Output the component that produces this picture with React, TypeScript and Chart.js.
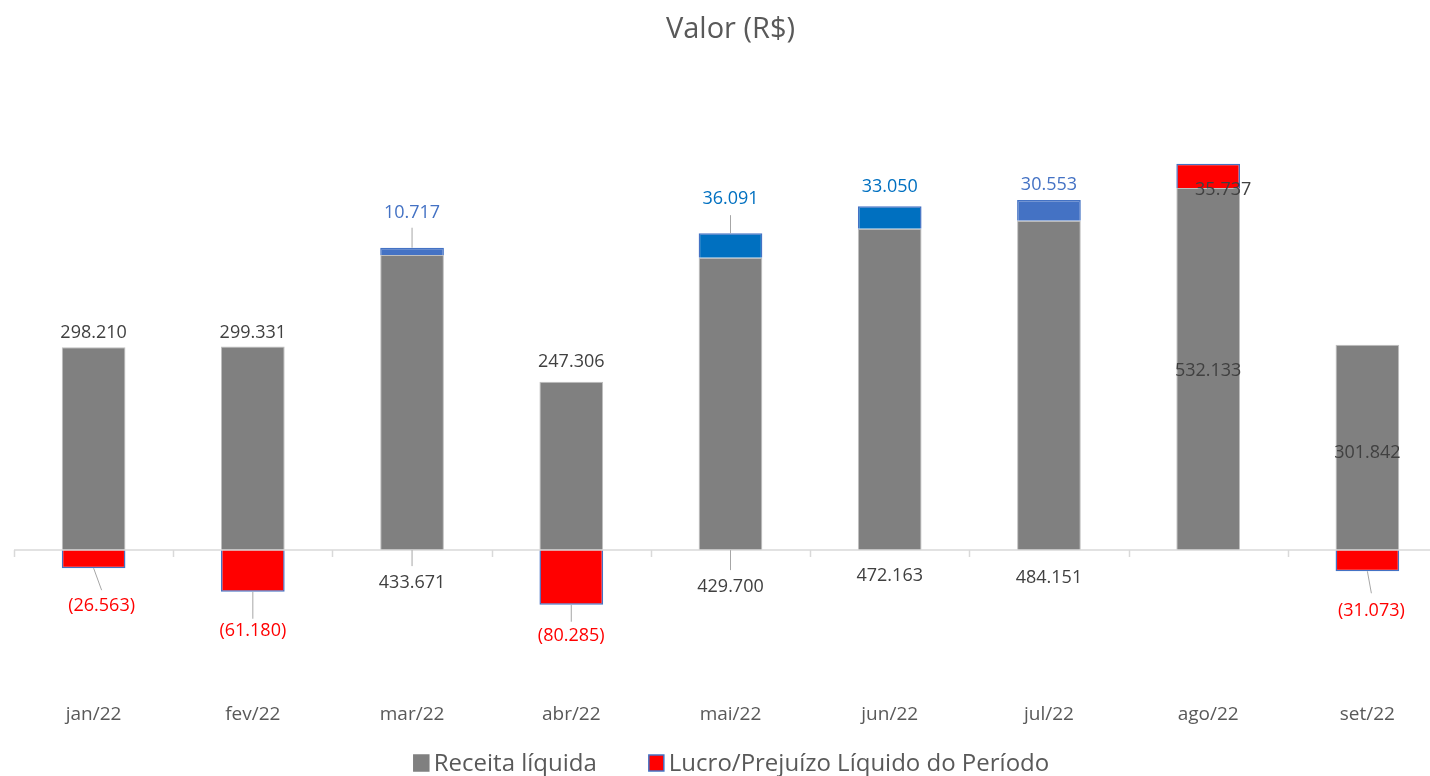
import React, { useEffect, useRef } from 'react';
import { Chart, registerables } from 'chart.js';

Chart.register(...registerables);

// ---------- data ----------
const categories = ['jan/22', 'fev/22', 'mar/22', 'abr/22', 'mai/22', 'jun/22', 'jul/22', 'ago/22', 'set/22'];
const receitaLiquida = [298210, 299331, 433671, 247306, 429700, 472163, 484151, 532133, 301842];
const lucroPrejuizo = [-26563, -61180, 10717, -80285, 36091, 33050, 30553, 35737, -31073];
const seriesNames = ['Receita líquida', 'Lucro/Prejuízo Líquido do Período'];
const chartTitle = 'Valor (R$)';
const yMin = -200000;
const yMax = 700000;

// ---------- styles ----------
const FONT = '"Open Sans", sans-serif';
const GREY = '#808080';
const GREY_BORDER = '#bfbfbf';
const RED = '#FF0000';
const BLUE = '#4472C4';
const BLUE2 = '#0070C0';
const TEXT_DARK = '#404040';
const TEXT = '#595959';
const lucroFill = [RED, RED, BLUE, RED, BLUE2, BLUE2, BLUE, RED, RED];
const lucroLabelColor = [RED, RED, BLUE, RED, BLUE2, BLUE2, BLUE, TEXT_DARK, RED];
const receitaLabelColor = categories.map(() => TEXT_DARK);

type LabelPos = { at: 'end' | 'base' | 'mid'; dx?: number; dy: number; leader?: boolean; gap?: number };
// label placement relative to each bar (Excel-like manual label positions)
const receitaLabelPos: LabelPos[] = [
  { at: 'end', dy: -16 },
  { at: 'end', dy: -16 },
  { at: 'base', dy: 31, leader: true, gap: 17 },
  { at: 'end', dy: -22 },
  { at: 'base', dy: 35, leader: true, gap: 17 },
  { at: 'base', dy: 24 },
  { at: 'base', dy: 26 },
  { at: 'mid', dy: 0 },
  { at: 'mid', dy: 3 },
];
const lucroLabelPos: LabelPos[] = [
  { at: 'end', dx: 8, dy: 36, leader: true, gap: 16 },
  { at: 'end', dy: 37, leader: true, gap: 12 },
  { at: 'end', dy: -37, leader: true, gap: 15 },
  { at: 'end', dy: 29, leader: true, gap: 14 },
  { at: 'end', dy: -36, leader: true, gap: 16 },
  { at: 'end', dy: -21 },
  { at: 'end', dy: -17 },
  { at: 'end', dx: 15, dy: 24 },
  { at: 'end', dx: 4, dy: 38, leader: true, gap: 18 },
];
const TEXT_SHIFT = 2; // baseline correction for the font

const fmt = (v: number) => {
  const s = Math.abs(v).toString().replace(/\B(?=(\d{3})+(?!\d))/g, '.');
  return v < 0 ? `(${s})` : s;
};

const overlayPlugin = {
  id: 'overlay',
  afterDatasetsDraw(chart: any) {
    const ctx = chart.ctx as CanvasRenderingContext2D;
    const { left, right } = chart.chartArea;
    const y0 = chart.scales.y.getPixelForValue(0);
    const n = categories.length;
    const w = (right - left) / n;
    ctx.save();
    // zero axis line + tick marks
    ctx.strokeStyle = '#d9d9d9';
    ctx.lineWidth = 1.5;
    ctx.beginPath();
    ctx.moveTo(left, y0);
    ctx.lineTo(right, y0);
    for (let i = 0; i <= n; i++) {
      const tx = Math.round(left + i * w) + 0.5;
      ctx.moveTo(tx, y0);
      ctx.lineTo(tx, y0 + 7);
    }
    ctx.stroke();

    ctx.font = `18px ${FONT}`;
    ctx.textAlign = 'center';
    ctx.textBaseline = 'middle';
    const drawSet = (dsIndex: number, values: number[], pos: LabelPos[], colors: string[]) => {
      const meta = chart.getDatasetMeta(dsIndex);
      meta.data.forEach((el: any, i: number) => {
        const p = pos[i];
        const pr = el.getProps(['x', 'y', 'base'], true);
        let ay: number;
        if (p.at === 'end') ay = pr.y;
        else if (p.at === 'base') ay = pr.base;
        else ay = (pr.y + pr.base) / 2;
        const lx = pr.x + (p.dx || 0);
        const ly = ay + p.dy + TEXT_SHIFT;
        if (p.leader) {
          const dir = Math.sign(p.dy);
          ctx.strokeStyle = '#a6a6a6';
          ctx.lineWidth = 1;
          ctx.beginPath();
          ctx.moveTo(pr.x, ay);
          ctx.lineTo(lx, ly - dir * (p.gap || 15));
          ctx.stroke();
        }
        ctx.fillStyle = colors[i];
        ctx.fillText(fmt(values[i]), lx, ly);
      });
    };
    drawSet(0, receitaLiquida, receitaLabelPos, receitaLabelColor);
    drawSet(1, lucroPrejuizo, lucroLabelPos, lucroLabelColor);
    ctx.restore();
  },
  afterDraw(chart: any) {
    // legend
    const ctx = chart.ctx as CanvasRenderingContext2D;
    const { left, right } = chart.chartArea;
    ctx.save();
    ctx.font = `24px ${FONT}`;
    ctx.textBaseline = 'middle';
    ctx.textAlign = 'left';
    const box = 15;
    const gapBoxText = 5;
    const gapItems = 52;
    const items = [
      { text: seriesNames[0], fill: GREY, stroke: GREY },
      { text: seriesNames[1], fill: RED, stroke: BLUE },
    ];
    const widths = items.map((it) => box + gapBoxText + ctx.measureText(it.text).width);
    const total = widths.reduce((a, b) => a + b, 0) + gapItems * (items.length - 1);
    let x = (left + right) / 2 - total / 2 + 1;
    const cy = 763;
    items.forEach((it, i) => {
      ctx.fillStyle = it.fill;
      ctx.fillRect(x, cy - 8, box, 16);
      ctx.strokeStyle = it.stroke;
      ctx.lineWidth = 1.5;
      ctx.strokeRect(x, cy - 8, box, 16);
      ctx.fillStyle = TEXT;
      ctx.fillText(it.text, x + box + gapBoxText, cy + 1);
      x += widths[i] + gapItems;
    });
    ctx.restore();
  },
};

export default function App() {
  const ref = useRef<HTMLCanvasElement | null>(null);
  useEffect(() => {
    if (!ref.current) return;
    const chart = new Chart(ref.current, {
      type: 'bar',
      data: {
        labels: categories,
        datasets: [
          {
            label: seriesNames[0],
            data: receitaLiquida,
            backgroundColor: GREY,
            borderColor: GREY_BORDER,
            borderWidth: 1,
            barPercentage: 0.4,
            categoryPercentage: 1,
          },
          {
            label: seriesNames[1],
            data: lucroPrejuizo,
            backgroundColor: lucroFill,
            borderColor: BLUE,
            borderWidth: 1.5,
            barPercentage: 0.4,
            categoryPercentage: 1,
          },
        ],
      },
      options: {
        animation: false,
        responsive: true,
        maintainAspectRatio: false,
        layout: { padding: { left: 14, right: 15, top: 0, bottom: 33 } },
        plugins: {
          legend: { display: false },
          tooltip: { enabled: false },
          title: {
            display: true,
            text: chartTitle,
            color: TEXT,
            font: { family: FONT, size: 29, weight: 'normal' },
            padding: { top: 12, bottom: 27 },
          },
        },
        scales: {
          x: {
            stacked: true,
            grid: { display: false, drawTicks: false, tickLength: 0 },
            border: { display: false },
            ticks: { color: TEXT, font: { family: FONT, size: 19 }, padding: 17, maxRotation: 0 },
          },
          y: {
            stacked: true,
            display: false,
            min: yMin,
            max: yMax,
          },
        },
      },
      plugins: [overlayPlugin],
    });
    return () => chart.destroy();
  }, []);
  return (
    <div style={{ position: 'fixed', left: 0, top: 0, width: 1430, height: 776, overflow: 'hidden', background: '#fff' }}>
      <div style={{ position: 'absolute', left: 0, top: 0, width: 1462, height: 776 }}>
        <canvas ref={ref} />
      </div>
    </div>
  );
}
